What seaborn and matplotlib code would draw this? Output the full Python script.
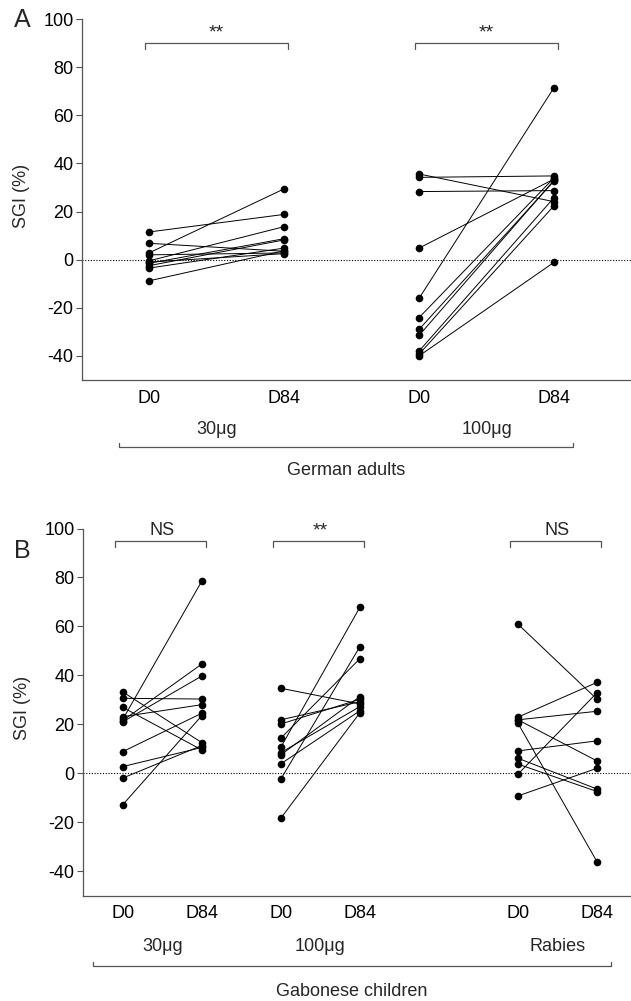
import matplotlib
matplotlib.use("Agg")
import matplotlib.pyplot as plt
import seaborn as sns
import pandas as pd

# Panel A: German adults, SGI (%) at D0 and D84 per subject
a30_d0 = [2.8, 11.5, 6.8, 2.0, -0.5, -1.5, -2.5, -3.5, -8.8, -1.0]
a30_d84 = [29.4, 18.8, 3.5, 2.8, 13.7, 8.7, 8.2, 4.8, 3.7, 2.5]
a100_d0 = [35.6, 34.2, 28.3, 4.8, -16.1, -24.1, -29.0, -31.5, -38.0, -39.3, -40.0]
a100_d84 = [24.1, 34.8, 28.7, 33.5, 71.5, 34.0, 32.7, 33.0, 25.8, 22.4, -1.1]

# Panel B: Gabonese children
b30_d0 = [33.2, 30.6, 26.9, 23.1, 22.0, 21.5, 21.0, 8.8, 2.7, -2.0, -12.9]
b30_d84 = [12.5, 30.3, 9.5, 28.0, 78.5, 44.6, 39.7, 24.5, 10.5, 11.3, 23.5]
b100_d0 = [-18.4, -2.4, 10.6, 14.3, 34.7, 21.8, 20.1, 8.4, 7.5, 3.8]
b100_d84 = [24.7, 51.7, 67.8, 46.8, 28.3, 29.2, 30.2, 27.2, 31.3, 25.5]
brab_d0 = [60.9, 22.9, 21.8, 21.8, 20.4, 9.1, 6.1, 3.7, -0.4, -9.3]
brab_d84 = [30.2, 37.1, 25.3, 5.0, -36.2, 13.2, -6.5, -7.5, 32.9, 2.0]

days = ["D0", "D84"]
groups_a = ["30\u03bcg", "100\u03bcg"]
groups_b = ["30\u03bcg", "100\u03bcg", "Rabies"]
sig_a = ["**", "**"]
sig_b = ["NS", "**", "NS"]


def long_table(groups, pos_data):
    rows = []
    for name, ((p0, p1), (d0, d84)) in zip(groups, pos_data):
        for i, (v0, v1) in enumerate(zip(d0, d84)):
            rows.append({"x": p0, "sgi": v0, "subject": f"{name}-{i}"})
            rows.append({"x": p1, "sgi": v1, "subject": f"{name}-{i}"})
    return pd.DataFrame(rows)


sns.set_style("ticks")
plt.rcParams["font.family"] = ["Liberation Sans", "DejaVu Sans"]
plt.rcParams["axes.unicode_minus"] = False
plt.rcParams["axes.edgecolor"] = "#555555"
plt.rcParams["xtick.color"] = "#555555"
plt.rcParams["ytick.color"] = "#555555"
plt.rcParams["xtick.labelcolor"] = "black"
plt.rcParams["ytick.labelcolor"] = "black"

FS = 13

fig = plt.figure(figsize=(6.31, 10.01), dpi=100)
axA = fig.add_axes([82 / 631, 1 - 380 / 1001, 549 / 631, 361 / 1001])
axB = fig.add_axes([83 / 631, 1 - 895.5 / 1001, 548 / 631, 367 / 1001])

panels = [
    (axA, groups_a, [((0, 1), (a30_d0, a30_d84)), ((2, 3), (a100_d0, a100_d84))],
     sig_a, (-0.496, 3.57), 0.03, 0.03, "German adults", (-0.22, 3.14),
     [-0.1385, -0.1856, -0.252]),
    (axB, groups_b, [((0, 1), (b30_d0, b30_d84)), ((2, 3), (b100_d0, b100_d84)),
                     ((5, 6), (brab_d0, brab_d84))],
     sig_b, (-0.503, 6.43), 0.1, 0.05, "Gabonese children", (-0.38, 6.18),
     [-0.140, -0.193, -0.262]),
]

for ax, groups, pos_data, sigs, xlim, lpad, rpad, cohort, span, offs in panels:
    df = long_table(groups, pos_data)
    ax.axhline(0, ls=(0, (1, 1.5)), color="black", lw=0.8, zorder=1)
    sns.lineplot(data=df, x="x", y="sgi", units="subject", estimator=None,
                 color="black", lw=0.7, marker="o", markersize=5.5,
                 markeredgewidth=0, legend=False, ax=ax, zorder=3)
    ax.set_xlim(*xlim)
    ax.set_ylim(-50, 100)
    ax.set_yticks([-40, -20, 0, 20, 40, 60, 80, 100])
    ticks = []
    labels = []
    for (p0, p1), _d in pos_data:
        ticks += [p0, p1]
        labels += days
    ax.set_xticks(ticks, labels)
    ax.tick_params(axis="x", length=0, pad=7, labelsize=FS)
    ax.tick_params(axis="y", length=4, width=0.8, pad=2, labelsize=FS)
    sns.despine(ax=ax)
    for s in ["left", "bottom"]:
        ax.spines[s].set_linewidth(0.9)
    ax.set_xlabel("")
    ax.set_ylabel("SGI (%)", fontsize=FS)
    ax.yaxis.set_label_coords(-0.095, 0.51)

    tr = ax.get_xaxis_transform()
    # significance brackets and group names
    for name, sig, ((p0, p1), _d) in zip(groups, sigs, pos_data):
        x0, x1 = p0 - lpad, p1 + rpad
        if ax is axA:
            yb, ye, yt = 90.0, 87.7, 94.0
        else:
            yb, ye, yt = 94.8, 92.5, 99.0
        ax.plot([x0, x0, x1, x1], [ye, yb, yb, ye], color="#555555", lw=0.9,
                clip_on=False)
        ax.text((p0 + p1) / 2, yt, sig, ha="center", va="center",
                fontsize=14 if sig == "**" else FS)
        ax.text((p0 + p1) / 2, offs[0], name, transform=tr, ha="center",
                va="center", fontsize=FS)
    # cohort bracket
    ax.plot([span[0], span[0], span[1], span[1]],
            [offs[1] + 0.011, offs[1], offs[1], offs[1] + 0.011],
            transform=tr, color="#555555", lw=0.9, clip_on=False)
    ax.text((span[0] + span[1]) / 2, offs[2], cohort, transform=tr,
            ha="center", va="center", fontsize=FS)

fig.text(22 / 631, 1 - 20 / 1001, "A", ha="center", va="center", fontsize=18)
fig.text(22 / 631, 1 - 551 / 1001, "B", ha="center", va="center", fontsize=18)

fig.savefig("out.png", dpi=100)
